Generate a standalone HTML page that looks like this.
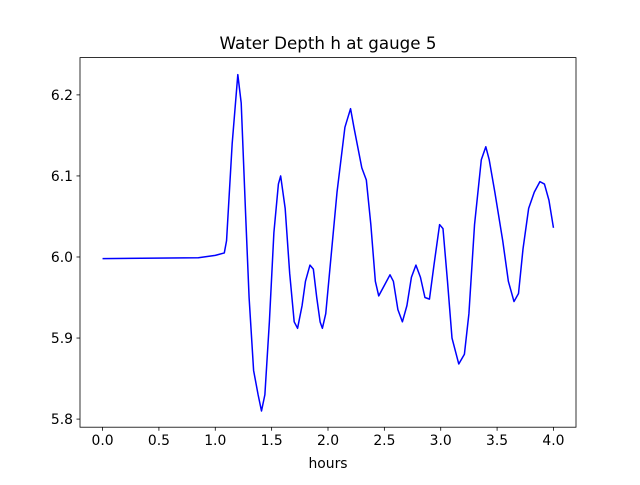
<!DOCTYPE html>
<html><head><meta charset="utf-8"><style>
body{margin:0;background:#fff}
svg text{font-family:"DejaVu Sans","Liberation Sans",sans-serif;fill:#000}
</style></head><body>
<svg id="chart" width="640" height="480" xmlns="http://www.w3.org/2000/svg">
<rect width="640" height="480" fill="#fff"/>
<text x="328" y="49" font-size="16.7" text-anchor="middle">Water Depth h at gauge 5</text>
<g id="ticks"></g>
<polyline id="line" fill="none" stroke="#0000ff" stroke-width="1.5" stroke-linejoin="round"/>
<rect x="80" y="57.6" width="496" height="369.6" fill="none" stroke="#000" stroke-width="0.8"/>
<text x="328" y="468" font-size="13.9" text-anchor="middle">hours</text>
</svg>
<script>
const hours=[0,0.85,1.0,1.08,1.1,1.15,1.2,1.23,1.27,1.3,1.34,1.38,1.41,1.44,1.48,1.52,1.56,1.58,1.62,1.66,1.7,1.73,1.77,1.8,1.84,1.87,1.9,1.93,1.95,1.98,2.02,2.08,2.15,2.2,2.23,2.3,2.34,2.38,2.42,2.45,2.5,2.55,2.58,2.62,2.66,2.7,2.74,2.78,2.82,2.86,2.9,2.94,2.99,3.02,3.06,3.1,3.16,3.21,3.25,3.3,3.36,3.4,3.43,3.48,3.55,3.6,3.65,3.69,3.73,3.78,3.83,3.88,3.92,3.96,4.0];
const depth=[5.998,5.999,6.002,6.005,6.02,6.14,6.225,6.19,6.05,5.95,5.86,5.83,5.81,5.83,5.92,6.03,6.09,6.10,6.06,5.98,5.92,5.912,5.94,5.97,5.99,5.985,5.95,5.92,5.912,5.93,5.99,6.08,6.16,6.183,6.16,6.11,6.095,6.04,5.97,5.952,5.965,5.978,5.97,5.935,5.92,5.94,5.975,5.99,5.975,5.95,5.948,5.99,6.04,6.035,5.97,5.9,5.868,5.88,5.93,6.04,6.12,6.136,6.12,6.08,6.02,5.97,5.945,5.955,6.01,6.06,6.08,6.093,6.09,6.07,6.036];
const xTicks=[0,0.5,1.0,1.5,2.0,2.5,3.0,3.5,4.0];
const yTicks=[5.8,5.9,6.0,6.1,6.2];
const X0=80,X1=576,Y0=427.2,Y1=57.6,xmin=-0.2,xmax=4.2,ymin=5.79,ymax=6.246;
const sx=v=>X0+(v-xmin)/(xmax-xmin)*(X1-X0);
const sy=v=>Y0-(v-ymin)/(ymax-ymin)*(Y0-Y1);
const NS="http://www.w3.org/2000/svg";
const g=document.getElementById('ticks');
xTicks.forEach(t=>{
 const l=document.createElementNS(NS,'line');
 l.setAttribute('x1',sx(t));l.setAttribute('x2',sx(t));l.setAttribute('y1',Y0);l.setAttribute('y2',Y0+3.5);l.setAttribute('stroke','#000');l.setAttribute('stroke-width','0.8');
 
 
 g.appendChild(l);
 const tx=document.createElementNS(NS,'text');
 tx.setAttribute('x',sx(t));tx.setAttribute('y',Y0+18);tx.setAttribute('font-size','13.9');tx.setAttribute('text-anchor','middle');
 tx.textContent=t.toFixed(1);
 
 
 g.appendChild(tx);
});
yTicks.forEach(t=>{
 const l=document.createElementNS(NS,'line');
 l.setAttribute('x1',X0-3.5);l.setAttribute('x2',X0);l.setAttribute('y1',sy(t));l.setAttribute('y2',sy(t));l.setAttribute('stroke','#000');l.setAttribute('stroke-width','0.8');
 
 
 g.appendChild(l);
 const tx=document.createElementNS(NS,'text');
 tx.setAttribute('x',X0-7);tx.setAttribute('y',sy(t)+5);tx.setAttribute('font-size','13.9');tx.setAttribute('text-anchor','end');
 tx.textContent=t.toFixed(1);
 
 
 g.appendChild(tx);
});
document.getElementById('line').setAttribute('points',hours.map((h,i)=>sx(h)+','+sy(depth[i])).join(' '));
</script>
</body></html>
